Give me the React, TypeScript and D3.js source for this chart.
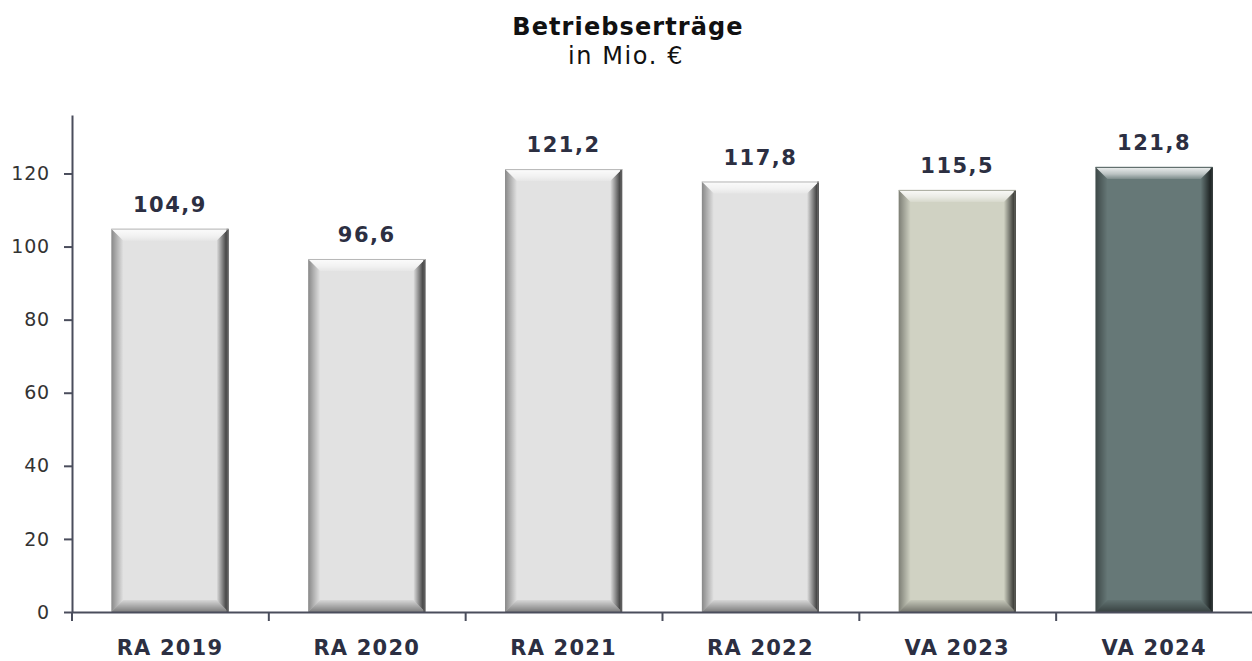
import { useEffect, useRef } from "react";
import * as d3 from "d3";

const categories = ["RA 2019", "RA 2020", "RA 2021", "RA 2022", "VA 2023", "VA 2024"];
const values = [104.9, 96.6, 121.2, 117.8, 115.5, 121.8];
const barColors = ["#e2e2e2", "#e2e2e2", "#e2e2e2", "#e2e2e2", "#d0d2c3", "#667877"];
const yTicks = [0, 20, 40, 60, 80, 100, 120];

const width = 1252;
const height = 661;
const margin = { top: 115, right: 0, bottom: 49, left: 72 };
const font = "'DejaVu Sans', sans-serif";
const axisColor = "#4a4d5c";

const App = () => {
  const ref = useRef<SVGSVGElement>(null);

  useEffect(() => {
    const svg = d3.select(ref.current);
    svg.selectAll("*").remove();
    const defs = svg.append("defs");

    const innerW = width - margin.left - margin.right;
    const innerH = height - margin.top - margin.bottom;

    const x = d3.scaleBand().domain(categories).range([0, innerW]).paddingInner(0.405).paddingOuter(0.2);
    const y = d3.scaleLinear().domain([0, 136]).range([innerH, 0]);

    // title
    svg.append("text")
      .attr("x", 628).attr("y", 35)
      .attr("text-anchor", "middle")
      .attr("font-family", font).attr("font-weight", "bold").attr("font-size", 24)
      .attr("letter-spacing", 1.1)
      .attr("fill", "#111")
      .text("Betriebserträge");
    svg.append("text")
      .attr("x", 626).attr("y", 64)
      .attr("text-anchor", "middle")
      .attr("font-family", font).attr("font-size", 24)
      .attr("letter-spacing", 1.6)
      .attr("fill", "#111")
      .text("in Mio. €");

    const g = svg.append("g").attr("transform", `translate(${margin.left},${margin.top})`);

    // gradients for the bevelled edges
    const grad = (id: string, x1: number, y1: number, x2: number, y2: number, stops: [number, string, number][]) => {
      const lg = defs.append("linearGradient").attr("id", id)
        .attr("x1", x1).attr("y1", y1).attr("x2", x2).attr("y2", y2);
      stops.forEach(([o, c, a]) => lg.append("stop").attr("offset", o).attr("stop-color", c).attr("stop-opacity", a));
    };
    grad("bevTop", 0, 0, 0, 1, [[0, "#fff", 0.9], [0.6, "#fff", 0.55], [1, "#fff", 0.15]]);
    grad("bevLeft", 0, 0, 1, 0, [[0, "#000", 0.4], [1, "#000", 0]]);
    grad("bevRight", 1, 0, 0, 0, [[0, "#000", 0.85], [0.3, "#000", 0.6], [1, "#000", 0]]);
    grad("bevBot", 0, 1, 0, 0, [[0, "#000", 0.45], [1, "#000", 0.05]]);

    const bev = 12;
    const pts = (arr: number[][]) => arr.map((p) => p.join(",")).join(" ");
    categories.forEach((c, i) => {
      const x0 = x(c)!;
      const w = x.bandwidth();
      const y0 = y(values[i]);
      const h = y(0) - y0;
      const base = d3.color(barColors[i])!;

      const bar = g.append("g");
      bar.append("rect").attr("x", x0).attr("y", y0).attr("width", w).attr("height", h).attr("fill", base.toString());
      bar.append("polygon")
        .attr("points", pts([[x0, y0], [x0 + bev, y0 + bev], [x0 + bev, y0 + h - bev], [x0, y0 + h]]))
        .attr("fill", "url(#bevLeft)");
      bar.append("polygon")
        .attr("points", pts([[x0, y0 + h], [x0 + w, y0 + h], [x0 + w - bev, y0 + h - bev], [x0 + bev, y0 + h - bev]]))
        .attr("fill", "url(#bevBot)");
      bar.append("polygon")
        .attr("points", pts([[x0 + w, y0], [x0 + w, y0 + h], [x0 + w - bev, y0 + h - bev], [x0 + w - bev, y0 + bev]]))
        .attr("fill", "url(#bevRight)");
      bar.append("polygon")
        .attr("points", pts([[x0, y0], [x0 + w, y0], [x0 + w - bev, y0 + bev], [x0 + bev, y0 + bev]]))
        .attr("fill", "url(#bevTop)");
      bar.append("line")
        .attr("x1", x0 + w - 1).attr("x2", x0 + w - 1).attr("y1", y0).attr("y2", y0 + h)
        .attr("stroke", base.darker(2.5).toString()).attr("stroke-width", 2);
      bar.append("line")
        .attr("x1", x0).attr("x2", x0 + w).attr("y1", y0 + 0.5).attr("y2", y0 + 0.5)
        .attr("stroke", base.darker(0.6).toString()).attr("stroke-width", 1);

      g.append("text")
        .attr("x", x0 + w / 2).attr("y", y0 - 17)
        .attr("text-anchor", "middle")
        .attr("font-family", font).attr("font-weight", "bold").attr("font-size", 21)
        .attr("letter-spacing", 1.5)
        .attr("fill", "#2c2f42")
        .text(d3.format(".1f")(values[i]).replace(".", ","));
    });

    // y axis
    const yAxis = g.append("g").call(d3.axisLeft(y).tickValues(yTicks).tickSize(8).tickSizeOuter(0));
    yAxis.select(".domain").attr("stroke", axisColor).attr("stroke-width", 2);
    yAxis.selectAll(".tick line").attr("stroke", axisColor).attr("stroke-width", 2);
    yAxis.selectAll(".tick text")
      .attr("x", -22)
      .attr("font-family", font).attr("font-size", 19).attr("letter-spacing", 0.8).attr("fill", "#333");

    // x axis
    const xAxis = g.append("g").attr("transform", `translate(0,${innerH})`)
      .call(d3.axisBottom(x).tickSize(0).tickSizeOuter(0));
    xAxis.select(".domain").attr("stroke", axisColor).attr("stroke-width", 2);
    xAxis.selectAll(".tick text")
      .attr("dy", 0).attr("y", 43)
      .attr("font-family", font).attr("font-weight", "bold").attr("font-size", 21)
      .attr("letter-spacing", 1.2).attr("fill", "#2c2f42");
    const bounds = d3.range(categories.length + 1).map((i) => i * x.step());
    xAxis.selectAll(".bound").data(bounds).join("line")
      .attr("x1", (d) => d).attr("x2", (d) => d)
      .attr("y1", 0).attr("y2", 9)
      .attr("stroke", axisColor).attr("stroke-width", 2);
  }, []);

  return <svg ref={ref} width={width} height={height} style={{ display: "block", position: "absolute", left: 0, top: 0 }} />;
};

export default App;
